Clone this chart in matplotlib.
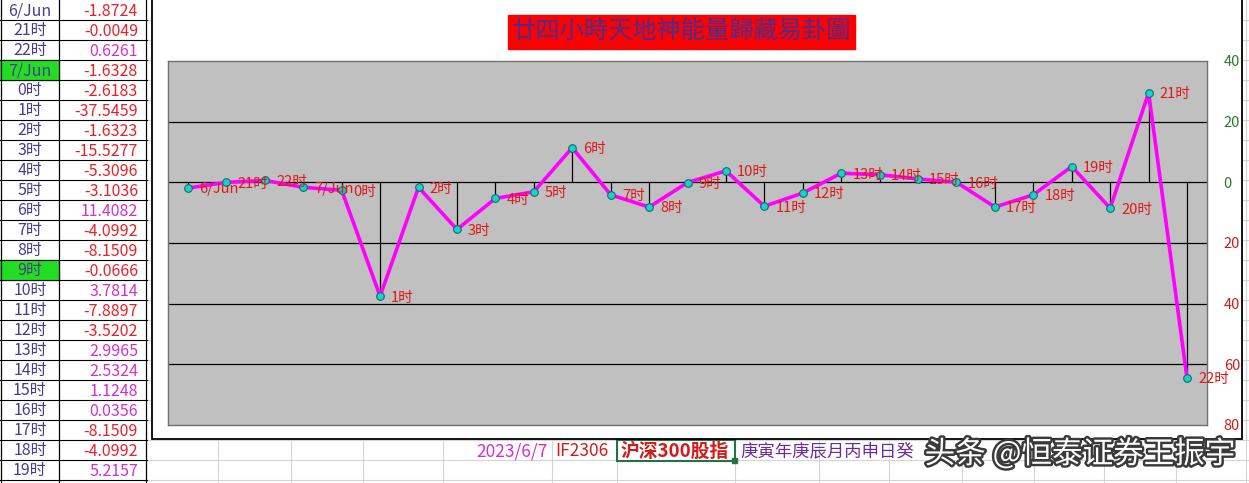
import matplotlib
matplotlib.use("Agg")
import matplotlib.pyplot as plt
from matplotlib.patches import Rectangle
import matplotlib.patheffects as pe

plt.rcParams['font.family'] = ['Noto Sans CJK SC', 'DejaVu Sans']

# chart series (6/Jun 20:00 -> 7/Jun 22:00)
hours = ['6/Jun', '21时', '22时', '7/Jun', '0时', '1时', '2时', '3时', '4时', '5时',
         '6时', '7时', '8时', '9时', '10时', '11时', '12时', '13时', '14时', '15时',
         '16时', '17时', '18时', '19时', '20时', '21时', '22时']
energy = [-1.8724, -0.0049, 0.6261, -1.6328, -2.6183, -37.5459, -1.6323, -15.5277,
          -5.3096, -3.1036, 11.4082, -4.0992, -8.1509, -0.0666, 3.7814, -7.8897,
          -3.5202, 2.9965, 2.5324, 1.1248, 0.0356, -8.1509, -4.0992, 5.2157,
          -8.5, 29.5, -64.5]

# left sheet columns (first 24 rows are visible)
table_rows = 24
green_rows = ['7/Jun', '9时']

y_ticks = [40, 20, 0, -20, -40, -60, -80]

title = '廿四小時天地神能量歸藏易卦圖'
footer = ['2023/6/7', 'IF2306', '沪深300股指', '庚寅年庚辰月丙申日癸']
watermark = '头条 @恒泰证券王振宇'

W, H = 1249, 483
fig = plt.figure(figsize=(W / 100, H / 100), dpi=100)

# background "sheet" in pixel coordinates
bg = fig.add_axes([0, 0, 1, 1])
bg.set_xlim(0, W)
bg.set_ylim(H, 0)
bg.axis('off')

grid_c = '#d4d4d4'
for y in range(20, H, 20):
    bg.plot([147, W], [y - 0.5, y - 0.5], color=grid_c, lw=0.8, zorder=0)
for x in [218, 291, 363, 443, 552, 617, 735, 819, 889, 962, 1034, 1104, 1176, 1246]:
    bg.plot([x, x], [0, H], color=grid_c, lw=0.8, zorder=0)

# left table
lab_c = '#4a3c8c'
neg_c = '#e8202a'
pos_c = '#d030d0'
for i in range(table_rows):
    yc = 10 + 20 * i
    lab = hours[i]
    if lab in green_rows:
        bg.add_patch(Rectangle((0, yc - 10), 59, 20, color='#22dd22', zorder=1))
    bg.text(30, yc + 1, lab, ha='center', va='center', fontsize=11.5, color=lab_c, zorder=3)
    v = energy[i]
    bg.text(138, yc + 1, f'{v:.4f}', ha='right', va='center', fontsize=11.5,
            color=neg_c if v < 0 else pos_c, zorder=3)
    bg.plot([0, 147], [yc + 9.5, yc + 9.5], color='black', lw=0.8, zorder=2)
for x in [0.5, 59.5, 146.5]:
    bg.plot([x, x], [0, H], color='black', lw=0.9, zorder=2)

# chart frame
bg.add_patch(Rectangle((152, -3), 1090, 442, facecolor='white', edgecolor='black',
                       lw=1.3, zorder=4))

# title
bg.add_patch(Rectangle((508, 15), 347, 34, color='red', zorder=5))
bg.text(681, 32, title, ha='center', va='center', fontsize=17.5, color='#4b2d8f', zorder=6)

# footer row
bg.text(548, 451, footer[0], ha='right', va='center', fontsize=12.5, color='#d030d0', zorder=3)
bg.text(555, 451, footer[1], ha='left', va='center', fontsize=12.5, color='#d41a1a', zorder=3)
bg.add_patch(Rectangle((617, 440), 118, 21, fill=False, edgecolor='#217346', lw=1.5, zorder=3))
bg.add_patch(Rectangle((732, 458), 5, 5, color='#217346', zorder=3))
bg.text(621, 451, footer[2], ha='left', va='center', fontsize=13.5, color='#d41a1a',
        fontweight='bold', zorder=3)
bg.text(740, 451, footer[3], ha='left', va='center', fontsize=12.5, color='#6a2ba0', zorder=3)
bg.text(1235, 454, watermark, ha='right', va='center', fontsize=22, color='white', zorder=7,
        path_effects=[pe.withStroke(linewidth=3.5, foreground='#3a3a3a')])

# plot area
x0, x1, y0, y1 = 168, 1207, 61, 425
ax = fig.add_axes([x0 / W, 1 - y1 / H, (x1 - x0) / W, (y1 - y0) / H], zorder=5)
ax.set_facecolor('#c0c0c0')
xs = list(range(len(energy)))
ax.set_xlim(-0.52, len(energy) - 1 + 0.52)
ax.set_ylim(-80, 40)

for y in [20, 0, -20, -40, -60]:
    ax.axhline(y, color='black', lw=0.9, zorder=1)
ax.vlines(xs, 0, energy, color='black', lw=0.9, zorder=2)
ax.plot(xs, energy, color='#ff00ff', lw=2.6, zorder=3)
ax.plot(xs, energy, 'o', ms=5.5, mfc='#20d0c8', mec='#0a6f6a', mew=0.8, zorder=4)
for x, v, lab in zip(xs, energy, hours):
    ax.annotate(lab, (x, v), xytext=(8, -1), textcoords='offset points',
                ha='left', va='center', fontsize=10.5, color='#e01818', zorder=5,
                annotation_clip=False)

ax.set_xticks([])
ax.yaxis.tick_right()
ax.set_yticks(y_ticks)
ax.set_yticklabels([str(abs(t)) for t in y_ticks], fontsize=10.5)
for t, lbl in zip(y_ticks, ax.get_yticklabels()):
    lbl.set_color('#2a7a2a' if t >= 0 else '#d41a1a')
ax.tick_params(axis='y', length=0, pad=12)
for s in ax.spines.values():
    s.set_color('#707070')
    s.set_linewidth(1)

fig.savefig('out.png', dpi=100)
